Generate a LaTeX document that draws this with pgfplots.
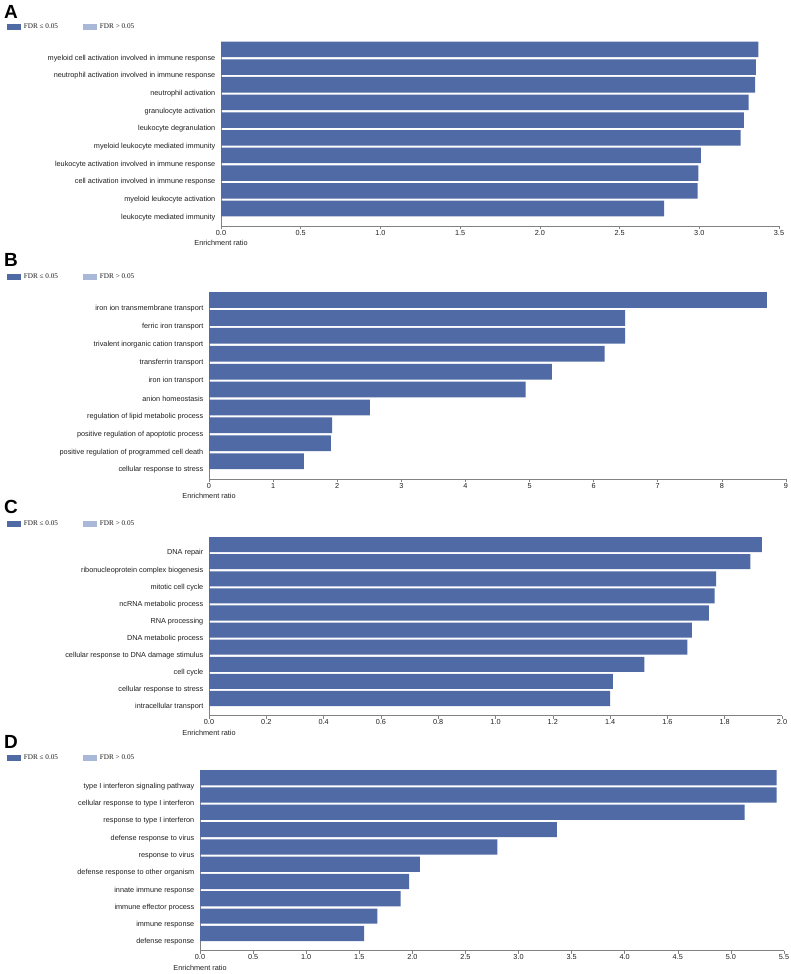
\documentclass[border=0pt]{standalone}
\usepackage{fontspec}
\setmainfont{Liberation Sans}
\newfontfamily\legendfont{Liberation Serif}
\usepackage{pgfplots}
\pgfplotsset{compat=1.18}
\definecolor{barblue}{RGB}{79,106,164}
\definecolor{barlight}{RGB}{169,183,217}
\definecolor{axisgray}{RGB}{130,130,130}
\definecolor{txt}{RGB}{30,30,30}
\pgfplotsset{
  enrich/.style={
    scale only axis,
    xmin=0,
    ymin=-0.5, ymax=9.65,
    axis x line*=bottom, axis y line*=left,
    axis line style={axisgray, line width=0.8pt, -},
    xbar, bar width=0.88,
    ytick={0,...,9},
    ytick style={draw=none},
    y tick label style={font=\fontsize{7.3}{8}\selectfont, text=txt, inner xsep=2.5pt},
    x tick label style={font=\fontsize{7.3}{8}\selectfont, text=txt, inner sep=0.8pt},
    xtick style={axisgray, line width=0.6pt},
    tick align=outside,
    major tick length=3pt,
    scaled ticks=false,
    /pgf/number format/assume math mode=true,
    xlabel={Enrichment ratio},
    xlabel style={font=\fontsize{7.3}{8}\selectfont, text=txt, at={(axis description cs:0,0)}, anchor=center, yshift=-17pt},
    clip=false,
    legend style={draw=none, fill=none, inner sep=0pt, outer sep=0pt, anchor=west,
      font=\legendfont\fontsize{7.2}{8}\selectfont, text=txt,
      legend columns=2,
      /tikz/every odd column/.append style={column sep=1.5pt},
      /tikz/every even column/.append style={column sep=23pt}},
  },
  swatch/.style={legend image code/.code={\fill[#1] (0pt,-2.6pt) rectangle (13pt,2.6pt);}},
}
\begin{document}
\begin{tikzpicture}[x=1pt,y=1pt]
\useasboundingbox (0,0) rectangle (790,974);
% ---------------- A ----------------
\node[anchor=base west, inner sep=0pt, font=\fontsize{19}{20}\selectfont\bfseries] at (4,955.5) {A};
\begin{axis}[enrich,
  at={(221pt,747.9pt)}, anchor=south west,
  width=558pt, height=179.4pt,
  xmax=3.5,
  xtick={0,0.5,1,1.5,2,2.5,3,3.5},
  xticklabel style={/pgf/number format/.cd, fixed, fixed zerofill, precision=1},
  yticklabels={{leukocyte mediated immunity},{myeloid leukocyte activation},{cell activation involved in immune response},{leukocyte activation involved in immune response},{myeloid leukocyte mediated immunity},{leukocyte degranulation},{granulocyte activation},{neutrophil activation},{neutrophil activation involved in immune response},{myeloid cell activation involved in immune response}},
  legend style={at={(axis description cs:-0.3835,1.1100)}},
]
\addplot[fill=barblue, draw=none, forget plot] coordinates {(2.78,0) (2.99,1) (2.995,2) (3.01,3) (3.26,4) (3.28,5) (3.31,6) (3.35,7) (3.355,8) (3.37,9)};
\addlegendimage{swatch=barblue}
\addlegendentry{FDR ≤ 0.05}
\addlegendimage{swatch=barlight}
\addlegendentry{FDR > 0.05}
\end{axis}
% ---------------- B ----------------
\node[anchor=base west, inner sep=0pt, font=\fontsize{19}{20}\selectfont\bfseries] at (4,707) {B};
\begin{axis}[enrich,
  at={(209pt,495pt)}, anchor=south west,
  width=577pt, height=181.7pt,
  xmax=9,
  xtick={0,1,2,3,4,5,6,7,8,9},
  yticklabels={{cellular response to stress},{positive regulation of programmed cell death},{positive regulation of apoptotic process},{regulation of lipid metabolic process},{anion homeostasis},{iron ion transport},{transferrin transport},{trivalent inorganic cation transport},{ferric iron transport},{iron ion transmembrane transport}},
  legend style={at={(axis description cs:-0.3501,1.1120)}},
]
\addplot[fill=barblue, draw=none, forget plot] coordinates {(1.48,0) (1.90,1) (1.92,2) (2.51,3) (4.94,4) (5.35,5) (6.17,6) (6.49,7) (6.49,8) (8.70,9)};
\addlegendimage{swatch=barblue}
\addlegendentry{FDR ≤ 0.05}
\addlegendimage{swatch=barlight}
\addlegendentry{FDR > 0.05}
\end{axis}
% ---------------- C ----------------
\node[anchor=base west, inner sep=0pt, font=\fontsize{19}{20}\selectfont\bfseries] at (4,460) {C};
\begin{axis}[enrich,
  at={(209pt,258.4pt)}, anchor=south west,
  width=573pt, height=173.6pt,
  xmax=2,
  xtick={0,0.2,0.4,0.6,0.8,1.0,1.2,1.4,1.6,1.8,2.0},
  xticklabel style={/pgf/number format/.cd, fixed, fixed zerofill, precision=1},
  yticklabels={{intracellular transport},{cellular response to stress},{cell cycle},{cellular response to DNA damage stimulus},{DNA metabolic process},{RNA processing},{ncRNA metabolic process},{mitotic cell cycle},{ribonucleoprotein complex biogenesis},{DNA repair}},
  legend style={at={(axis description cs:-0.3525,1.1040)}},
]
\addplot[fill=barblue, draw=none, forget plot] coordinates {(1.40,0) (1.41,1) (1.52,2) (1.67,3) (1.685,4) (1.745,5) (1.765,6) (1.77,7) (1.89,8) (1.93,9)};
\addlegendimage{swatch=barblue}
\addlegendentry{FDR ≤ 0.05}
\addlegendimage{swatch=barlight}
\addlegendentry{FDR > 0.05}
\end{axis}
% ---------------- D ----------------
\node[anchor=base west, inner sep=0pt, font=\fontsize{19}{20}\selectfont\bfseries] at (4,225) {D};
\begin{axis}[enrich,
  at={(200pt,23.3pt)}, anchor=south west,
  width=584pt, height=175.6pt,
  xmax=5.5,
  xtick={0,0.5,1,1.5,2,2.5,3,3.5,4,4.5,5,5.5},
  xticklabel style={/pgf/number format/.cd, fixed, fixed zerofill, precision=1},
  yticklabels={{defense response},{immune response},{immune effector process},{innate immune response},{defense response to other organism},{response to virus},{defense response to virus},{response to type I interferon},{cellular response to type I interferon},{type I interferon signaling pathway}},
  legend style={at={(axis description cs:-0.3305,1.0980)}},
]
\addplot[fill=barblue, draw=none, forget plot] coordinates {(1.545,0) (1.67,1) (1.89,2) (1.97,3) (2.07,4) (2.80,5) (3.36,6) (5.13,7) (5.43,8) (5.43,9)};
\addlegendimage{swatch=barblue}
\addlegendentry{FDR ≤ 0.05}
\addlegendimage{swatch=barlight}
\addlegendentry{FDR > 0.05}
\end{axis}
\end{tikzpicture}
\end{document}
